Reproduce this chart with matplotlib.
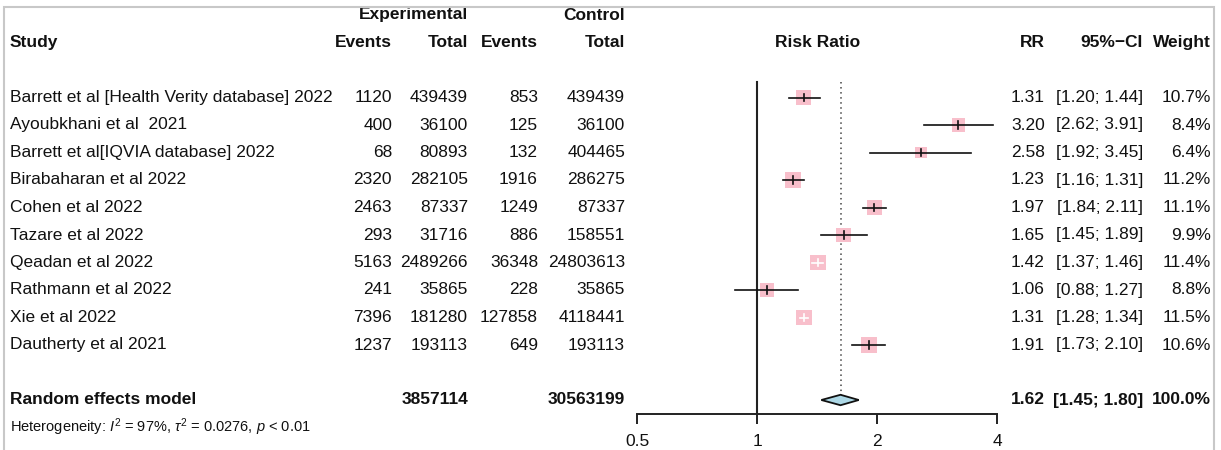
import numpy as np
import matplotlib
matplotlib.use("Agg")
import matplotlib.pyplot as plt
import matplotlib.patches as patches
from matplotlib.transforms import blended_transform_factory

plt.rcParams['font.family'] = ['Liberation Sans', 'DejaVu Sans']
plt.rcParams['mathtext.fontset'] = 'custom'
plt.rcParams['mathtext.rm'] = 'Liberation Sans'
plt.rcParams['mathtext.it'] = 'Liberation Sans:italic'

studies = ["Barrett et al [Health Verity database] 2022", "Ayoubkhani et al  2021",
           "Barrett et al[IQVIA database] 2022", "Birabaharan et al 2022", "Cohen et al 2022",
           "Tazare et al 2022", "Qeadan et al 2022", "Rathmann et al 2022", "Xie et al 2022",
           "Dautherty et al 2021"]
exp_events = [1120, 400, 68, 2320, 2463, 293, 5163, 241, 7396, 1237]
exp_total = [439439, 36100, 80893, 282105, 87337, 31716, 2489266, 35865, 181280, 193113]
ctrl_events = [853, 125, 132, 1916, 1249, 886, 36348, 228, 127858, 649]
ctrl_total = [439439, 36100, 404465, 286275, 87337, 158551, 24803613, 35865, 4118441, 193113]
rr = [1.31, 3.20, 2.58, 1.23, 1.97, 1.65, 1.42, 1.06, 1.31, 1.91]
ci_lo = [1.20, 2.62, 1.92, 1.16, 1.84, 1.45, 1.37, 0.88, 1.28, 1.73]
ci_hi = [1.44, 3.91, 3.45, 1.31, 2.11, 1.89, 1.46, 1.27, 1.34, 2.10]
weight = [10.7, 8.4, 6.4, 11.2, 11.1, 9.9, 11.4, 8.8, 11.5, 10.6]

pooled = 1.62
pooled_lo = 1.45
pooled_hi = 1.80
pooled_exp_total = 3857114
pooled_ctrl_total = 30563199
xticks = [0.5, 1, 2, 4]
xticklabels = ["0.5", "1", "2", "4"]

W, H = 1221, 450
fig = plt.figure(figsize=(W / 100, H / 100), dpi=100)
ax = fig.add_axes([0, 0, 1, 1])
ax.set_xscale('log', base=2)
# 0.5 sits at x=637px, 4 at x=997px (120 px per doubling)
ax.set_xlim(2 ** (-1 - 637 / 120), 2 ** (2 + (W - 997) / 120))
ax.set_ylim(352.5 / 27.5, -97.5 / 27.5)
ax.patch.set_alpha(0)

tr = blended_transform_factory(fig.transFigure, ax.transData)
fs = 12.5


def txt(px, row, s, ha='left', bold=False, size=fs):
    ax.text(px / W, row, s, transform=tr, ha=ha, va='center', fontsize=size,
            fontweight='bold' if bold else 'normal', color='#111111')


# headers
txt(468, -3, "Experimental", ha='right', bold=True)
txt(625, -3, "Control", ha='right', bold=True)
txt(10, -2, "Study", bold=True)
txt(392, -2, "Events", ha='right', bold=True)
txt(468, -2, "Total", ha='right', bold=True)
txt(538, -2, "Events", ha='right', bold=True)
txt(625, -2, "Total", ha='right', bold=True)
txt(818, -2, "Risk Ratio", ha='center', bold=True)
txt(1045, -2, "RR", ha='right', bold=True)
txt(1143, -2, "95%\u2212CI", ha='right', bold=True)
txt(1211, -2, "Weight", ha='right', bold=True)

rows = np.arange(len(studies))
for i in rows:
    txt(10, i, studies[i])
    txt(392, i, str(exp_events[i]), ha='right')
    txt(468, i, str(exp_total[i]), ha='right')
    txt(538, i, str(ctrl_events[i]), ha='right')
    txt(625, i, str(ctrl_total[i]), ha='right')
    txt(1045, i, f"{rr[i]:.2f}", ha='right')
    txt(1143, i, f"[{ci_lo[i]:.2f}; {ci_hi[i]:.2f}]", ha='right')
    txt(1211, i, f"{weight[i]:.1f}%", ha='right')

pr = len(studies) + 1
txt(10, pr, "Random effects model", bold=True)
txt(468, pr, str(pooled_exp_total), ha='right', bold=True)
txt(625, pr, str(pooled_ctrl_total), ha='right', bold=True)
txt(1045, pr, f"{pooled:.2f}", ha='right', bold=True)
txt(1143, pr, f"[{pooled_lo:.2f}; {pooled_hi:.2f}]", ha='right', bold=True)
txt(1211, pr, f"{sum(weight):.1f}%", ha='right', bold=True)
txt(10, pr + 1, r"Heterogeneity: $I^2$ = 97%, $\tau^2$ = 0.0276, $p$ < 0.01", size=10.5)

# reference lines
ax.plot([1, 1], [-0.55, pr + 0.5], color='#222222', lw=1.5, zorder=1)
ax.plot([pooled, pooled], [-0.55, pr - 0.2], color='#444444', lw=1.1,
        linestyle=(0, (1, 2.3)), zorder=1)

# squares and CIs
fig.canvas.draw()
for i in rows:
    side_px = 15.5 * np.sqrt(weight[i] / 11.2)
    ax.scatter([rr[i]], [i], marker='s', s=(side_px * 0.72) ** 2, color='#f8bfcb',
               edgecolors='none', zorder=2)
    x0 = ax.transData.transform((ci_lo[i], i))[0]
    x1 = ax.transData.transform((ci_hi[i], i))[0]
    c = 'white' if (x1 - x0) < side_px else '#111111'
    ax.plot([ci_lo[i], ci_hi[i]], [i, i], color=c, lw=1.2, zorder=3)
    ax.plot([rr[i], rr[i]], [i - 0.14, i + 0.14], color=c, lw=1.2, zorder=3)

# pooled diamond
ax.fill([pooled_lo, pooled, pooled_hi, pooled], [pr, pr - 0.19, pr, pr + 0.19],
        facecolor='#add8e6', edgecolor='#111111', lw=1.3, zorder=3)

# axis
for s in ['top', 'left', 'right']:
    ax.spines[s].set_visible(False)
ax.spines['bottom'].set_position(('data', pr + 0.5))
ax.spines['bottom'].set_bounds(xticks[0], xticks[-1])
ax.spines['bottom'].set_linewidth(1.4)
ax.spines['bottom'].set_color('#222222')
ax.set_xticks(xticks)
ax.set_xticklabels(xticklabels)
ax.minorticks_off()
ax.tick_params(axis='x', direction='out', length=7, width=1.4, color='#222222',
               labelsize=12.5, pad=7.5, labelcolor='#111111')
ax.set_yticks([])

# light grey frame around the picture
fig.add_artist(patches.Rectangle((4 / W, -0.1), (1214 - 4) / W, 1.1 - 7 / H,
                                 transform=fig.transFigure, fill=False,
                                 edgecolor='#c8c8c8', lw=1.5))

fig.savefig("out.png", dpi=100)
